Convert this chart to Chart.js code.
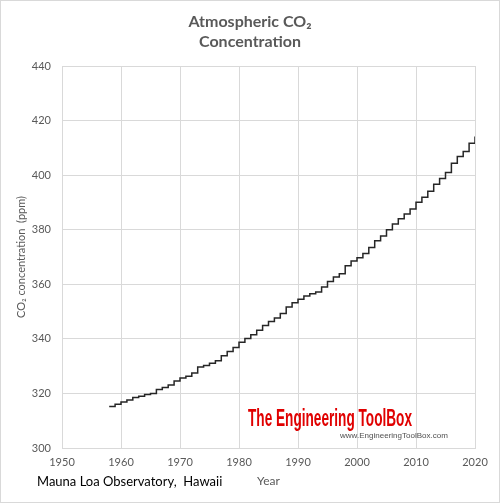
<!DOCTYPE html>
<html>
<head>
<meta charset="utf-8">
<script src="https://cdn.jsdelivr.net/npm/chart.js@4.4.0/dist/chart.umd.min.js"></script>
<style>
  html, body { margin: 0; padding: 0; background: #fff; }
  #wrap { width: 500px; height: 503px; }
</style>
</head>
<body>
<div id="wrap"><canvas id="co2chart" width="500" height="503"></canvas></div>
<script>
// annual mean CO2 at Mauna Loa
var years = [1958, 1959, 1960, 1961, 1962, 1963, 1964, 1965, 1966, 1967,
             1968, 1969, 1970, 1971, 1972, 1973, 1974, 1975, 1976, 1977,
             1978, 1979, 1980, 1981, 1982, 1983, 1984, 1985, 1986, 1987,
             1988, 1989, 1990, 1991, 1992, 1993, 1994, 1995, 1996, 1997,
             1998, 1999, 2000, 2001, 2002, 2003, 2004, 2005, 2006, 2007,
             2008, 2009, 2010, 2011, 2012, 2013, 2014, 2015, 2016, 2017,
             2018, 2019, 2020];
var co2ppm = [315.2, 316.0, 316.9, 317.6, 318.5, 319.0, 319.6, 320.0, 321.4, 322.2,
              323.1, 324.6, 325.7, 326.3, 327.5, 329.7, 330.2, 331.1, 332.0, 333.8,
              335.4, 336.8, 338.8, 340.1, 341.5, 343.2, 344.9, 346.4, 347.6, 349.3,
              351.7, 353.2, 354.5, 355.7, 356.5, 357.2, 359.0, 361.0, 362.7, 363.9,
              366.8, 368.5, 369.7, 371.3, 373.5, 376.0, 377.7, 380.0, 382.1, 384.0,
              385.8, 387.6, 390.1, 391.9, 394.1, 396.7, 398.8, 401.0, 404.4, 406.8,
              408.7, 411.7, 414.2];

var titleLines = ['Atmospheric CO\u2082', 'Concentration'];
var sourceNote = 'Mauna Loa Observatory,  Hawaii';
var watermark = 'The Engineering ToolBox';
var watermarkUrl = 'www.EngineeringToolBox.com';

var gridColor = '#d9d9d9';
var textColor = '#595959';

// title, footnote, watermark and outer frame
var decorPlugin = {
    id: 'decor',
    beforeDraw: function(chart) {
        var c = chart.ctx;
        c.save();
        c.fillStyle = '#ffffff';
        c.fillRect(0, 0, chart.width, chart.height);
        c.restore();
    },
    afterDraw: function(chart) {
        var c = chart.ctx;
        c.save();
        c.strokeStyle = gridColor;
        c.lineWidth = 1;
        c.strokeRect(0.5, 0.5, chart.width - 1, chart.height - 1);

        c.fillStyle = textColor;
        c.font = 'bold 16px Lato';
        c.textAlign = 'center';
        c.textBaseline = 'middle';
        c.fillText(titleLines[0], 250, 22);
        c.fillText(titleLines[1], 250, 42);

        c.fillStyle = '#000000';
        c.font = '13px Lato';
        c.textAlign = 'left';
        c.fillText(sourceNote, 37, 482);

        // squeezed red logo text
        c.font = 'bold 24px "Liberation Sans Narrow", "Liberation Sans"';
        var w = c.measureText(watermark).width;
        c.translate(248, 419);
        c.scale(164 / w, 1);
        c.fillStyle = '#e00000';
        c.fillText(watermark, 0, 0);
        c.setTransform(1, 0, 0, 1, 0, 0);

        c.font = '8px "Liberation Sans"';
        var w2 = c.measureText(watermarkUrl).width;
        c.translate(340, 436);
        c.scale(108 / w2, 1);
        c.fillStyle = '#505050';
        c.fillText(watermarkUrl, 0, 0);
        c.restore();
    }
};

var points = years.map(function(y, i) { return { x: y, y: co2ppm[i] }; });

var ctx = document.getElementById('co2chart').getContext('2d');
var co2Chart = new Chart(ctx, {
    type: 'line',
    data: {
        datasets: [{
            label: 'CO2',
            data: points,
            stepped: true,
            borderColor: '#262626',
            borderWidth: 1.5,
            pointRadius: 0,
            fill: false
        }]
    },
    options: {
        responsive: false,
        animation: false,
        layout: { padding: { top: 66, left: 0, right: 25, bottom: 0 } },
        scales: {
            x: {
                type: 'linear',
                min: 1950,
                max: 2020,
                afterFit: function(scale) { scale.height = 55; },
                ticks: {
                    stepSize: 10,
                    color: textColor,
                    font: { family: 'Lato', size: 11 },
                    padding: 8,
                    maxRotation: 0,
                    callback: function(v) { return String(v); }
                },
                grid: { color: gridColor, drawTicks: false },
                border: { color: gridColor },
                title: {
                    display: true,
                    text: 'Year',
                    color: textColor,
                    font: { family: 'Lato', size: 12 },
                    padding: { top: 0, bottom: 15 }
                }
            },
            y: {
                min: 300,
                max: 440,
                afterFit: function(scale) { scale.width = 62; },
                ticks: {
                    stepSize: 20,
                    color: textColor,
                    font: { family: 'Lato', size: 11 },
                    padding: 11
                },
                grid: { color: gridColor, drawTicks: false },
                border: { color: gridColor },
                title: {
                    display: true,
                    text: 'CO\u2082 concentration  (ppm)',
                    color: textColor,
                    font: { family: 'Lato', size: 11 },
                    padding: { top: 15, bottom: 0 }
                }
            }
        },
        plugins: {
            legend: { display: false },
            title: { display: false },
            tooltip: { enabled: false }
        }
    },
    plugins: [decorPlugin]
});
</script>
</body>
</html>
